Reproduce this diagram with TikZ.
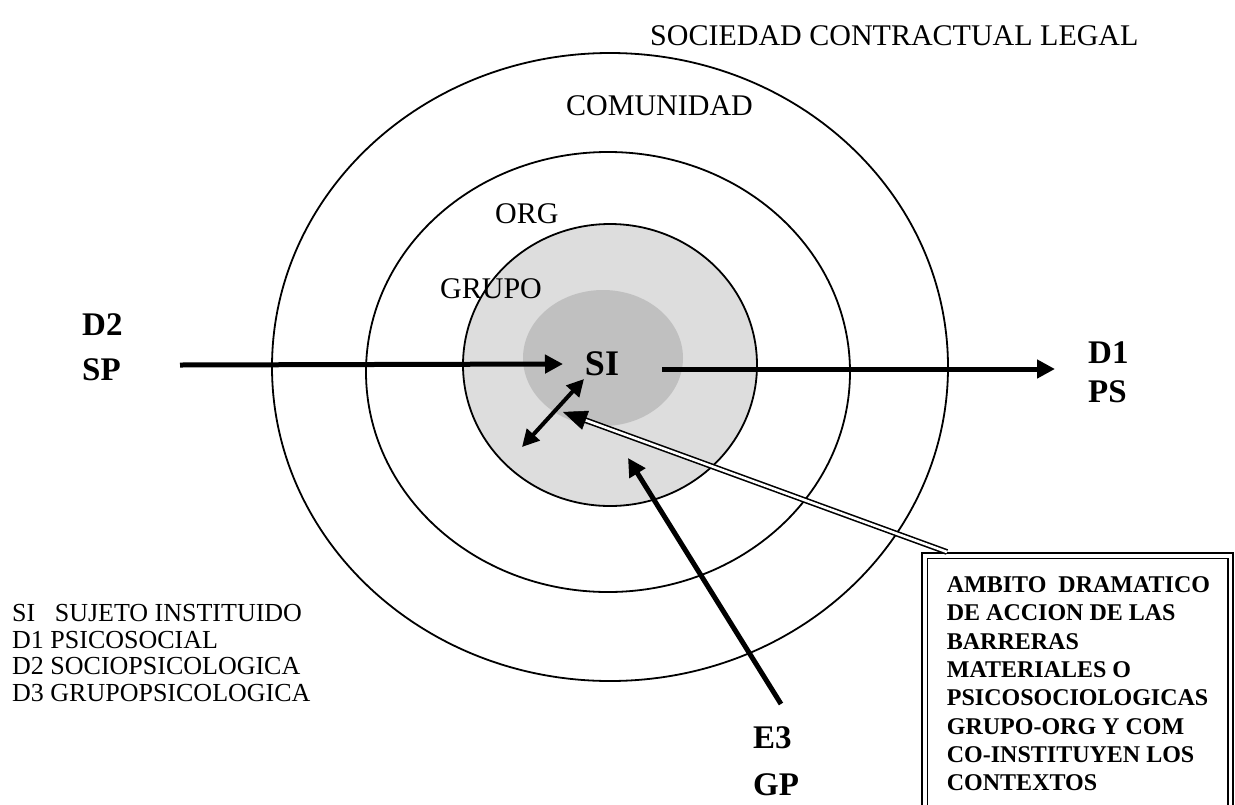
\documentclass[tikz,border=0pt]{standalone}
\usepackage{fontspec}
\setmainfont{Liberation Serif}
\usetikzlibrary{arrows.meta,calc}
\definecolor{grayA}{RGB}{221,221,221}
\definecolor{grayB}{RGB}{192,192,192}
\begin{document}
\begin{tikzpicture}[x=1pt,y=-1pt,
  ring/.style={draw=black,line width=1.8pt},
  lbl/.style={anchor=base west,inner sep=0pt,font=\fontsize{30}{34}\selectfont},
  blbl/.style={anchor=base west,inner sep=0pt,font=\bfseries\fontsize{33}{38}\selectfont},
  fatarrow/.style={line width=5pt,-{Triangle[length=18pt,width=18pt]}},
  twoarrow/.style={line width=4pt,{Triangle[length=17pt,width=17pt]}-{Triangle[length=17pt,width=17pt]}},
  dblline/.style={double=white,double distance=2.6pt,line width=1.6pt},
  dbltip/.style={line width=0.5pt,-{Triangle[length=24pt,width=20pt]}},
  legend/.style={anchor=base west,inner sep=0pt,align=left,font=\fontsize{26}{26.6}\selectfont},
  boxtext/.style={anchor=base west,inner sep=0pt,align=left,font=\bfseries\fontsize{24}{28.3}\selectfont}]
\useasboundingbox (0,0) rectangle (1235,804);
\fill[white] (0,0) rectangle (1235,804);
% rings
\draw[ring] (610,367) ellipse [x radius=338, y radius=314];
\draw[ring] (608,372) ellipse [x radius=242, y radius=220];
\draw[ring,fill=grayA] (610,365) ellipse [x radius=147, y radius=141];
\fill[grayB] (603,358) ellipse [x radius=80, y radius=68];
% ring labels
\node[lbl] (soc) at (650,45) {SOCIEDAD CONTRACTUAL LEGAL};
\node[lbl] (com) at (566,115) {COMUNIDAD};
\node[lbl] (org) at (495,223) {ORG};
\node[lbl] (gru) at (440,298) {GRUPO};
% centre
\node[anchor=base,inner sep=0pt,font=\bfseries\fontsize{36}{40}\selectfont] (si) at (602,375) {SI};
% side labels
\node[blbl] (d2) at (82,335) {D2};
\node[blbl] (sp) at (82,380) {SP};
\node[blbl] (d1) at (1088,363) {D1};
\node[blbl] (ps) at (1088,402) {PS};
\node[blbl] (e3) at (753,748) {E3};
\node[blbl] (gp) at (753,795) {GP};
% arrows
\coordinate (d2s) at (180,365);
\coordinate (d2e) at (563,364);
\draw[fatarrow] (d2s) -- (d2e);
\coordinate (d1s) at (662,369);
\coordinate (d1e) at (1055,369);
\draw[fatarrow] (d1s) -- (d1e);
\coordinate (e3s) at (781,704);
\coordinate (e3e) at (628,458);
\draw[fatarrow] (e3s) -- (e3e);
\coordinate (ta) at (522,447);
\coordinate (tb) at (584,379);
\draw[twoarrow] (ta) -- (tb);
% box
\fill[white] (922,553) rectangle (1236,810);
\draw[line width=2pt] (922,553) rectangle (1233,812);
\draw[line width=1.3pt] (927.5,558.5) rectangle (1228,812);
\coordinate (bx) at (947,552);
\coordinate (bxe) at (563,412);
\draw[dblline] (bx) -- ($(bxe)!20pt!(bx)$);
\draw[dbltip] ($(bxe)!2pt!(bx)$) -- (bxe);
\node[boxtext] (box) at (946.7,790.7) {AMBITO\ \ DRAMATICO\\DE ACCION DE LAS\\BARRERAS\\MATERIALES O\\PSICOSOCIOLOGICAS\\GRUPO-ORG Y COM\\CO-INSTITUYEN LOS\\CONTEXTOS};
% legend
\node[legend] (leg) at (12,701.5) {SI~~~SUJETO INSTITUIDO\\D1 PSICOSOCIAL\\D2 SOCIOPSICOLOGICA\\D3 GRUPOPSICOLOGICA};
\end{tikzpicture}
\end{document}
